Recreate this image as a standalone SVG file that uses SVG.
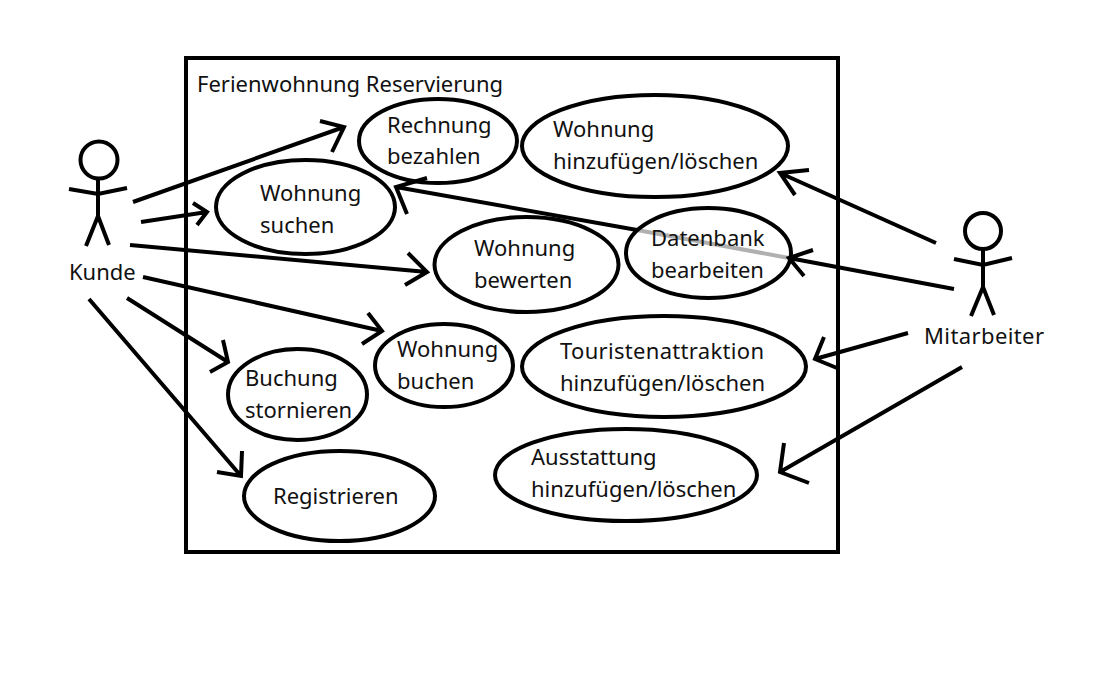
<svg xmlns="http://www.w3.org/2000/svg" width="1112" height="676" viewBox="0 0 1112 676">
<style>
.e{fill:none;stroke:#000;stroke-width:4}
.l{fill:none;stroke:#000;stroke-width:4;stroke-linecap:butt;stroke-linejoin:miter}
text{font-family:"Noto Sans","Open Sans","Liberation Sans",sans-serif;font-size:22px;fill:#111}
</style>
<rect width="1112" height="676" fill="#fff"/>
<g id="system"><rect class="e" x="186" y="58" width="652" height="494"/><text x="197" y="91.500">Ferienwohnung Reservierung</text></g>
<g id="actor-kunde"><circle class="e" cx="99" cy="160" r="18.500"/><path class="l" d="M98 179V216M69 189L98 194L127 188M86 246L98 216L109 245"/><text x="69" y="279.500">Kunde</text></g>
<g id="actor-mitarbeiter"><circle class="e" cx="983" cy="231" r="18"/><path class="l" d="M983 249V287M954 259L983 265L1012 258M971 316L983 287L994 315"/><text x="924" y="343.500" textLength="120">Mitarbeiter</text></g>
<g id="uc-rechnung"><ellipse class="e" cx="438" cy="141" rx="79" ry="42"/><text x="387" y="133">Rechnung</text><text x="387" y="164">bezahlen</text></g>
<g id="uc-wohnung-hinzu"><ellipse class="e" cx="655" cy="146" rx="133" ry="51"/><text x="553" y="136.500">Wohnung</text><text x="553" y="168.500">hinzufügen/löschen</text></g>
<g id="uc-suchen"><ellipse class="e" cx="305.500" cy="207" rx="89.500" ry="47"/><text x="260" y="200.500">Wohnung</text><text x="260" y="232.500">suchen</text></g>
<g id="uc-bewerten"><ellipse class="e" cx="526.500" cy="264.500" rx="92" ry="47.500"/><text x="474" y="255.500">Wohnung</text><text x="474" y="287.500">bewerten</text></g>
<g id="connectors">
<path d="M637 230L789 258" fill="none" stroke="#b0b0b0" stroke-width="4"/>
<path class="l" d="M133 202L344 127M320 121L344 127L332 152"/>
<path class="l" d="M141 222L207 212M193 203L207 212L197 225"/>
<path class="l" d="M130 245L427 272M408 253L427 272L405 285"/>
<path class="l" d="M143 277L382 331M368 313L382 331L362 344"/>
<path class="l" d="M127 298L228 362M223 340L228 362L210 372"/>
<path class="l" d="M89 299L241 476M242 451L241 476L217 472"/>
<path class="l" d="M936 243L780 173M809 170L780 173L795 195"/>
<path class="l" d="M954 289L789 258M813 250L789 258L804 276"/>
<path class="l" d="M637 230L396 187M427 178L396 187L407 214"/>
<path class="l" d="M908 333L815 359M824 337L815 359L837 368"/>
<path class="l" d="M962 367L780 472M784 443L780 472L809 483"/>
</g>
<g id="uc-datenbank"><ellipse class="e" cx="708.500" cy="253" rx="82.500" ry="45"/><text x="651" y="245.500">Datenbank</text><text x="651" y="277.500">bearbeiten</text></g>
<g id="uc-buchen"><ellipse class="e" cx="444" cy="365.500" rx="69" ry="41.500"/><text x="397" y="356.500">Wohnung</text><text x="397" y="388.500">buchen</text></g>
<g id="uc-tourist"><ellipse class="e" cx="664" cy="366.500" rx="142" ry="50.500"/><text x="560" y="358.500" textLength="204">Touristenattraktion</text><text x="560" y="390.500" textLength="205">hinzufügen/löschen</text></g>
<g id="uc-stornieren"><ellipse class="e" cx="297.500" cy="394.500" rx="69.500" ry="45.500"/><text x="245" y="385.500">Buchung</text><text x="245" y="417.500">stornieren</text></g>
<g id="uc-registrieren"><ellipse class="e" cx="339.500" cy="496" rx="95.500" ry="45"/><text x="273" y="503.500">Registrieren</text></g>
<g id="uc-ausstattung"><ellipse class="e" cx="626" cy="475" rx="131" ry="46"/><text x="531" y="464.500">Ausstattung</text><text x="531" y="496.500">hinzufügen/löschen</text></g>
</svg>
